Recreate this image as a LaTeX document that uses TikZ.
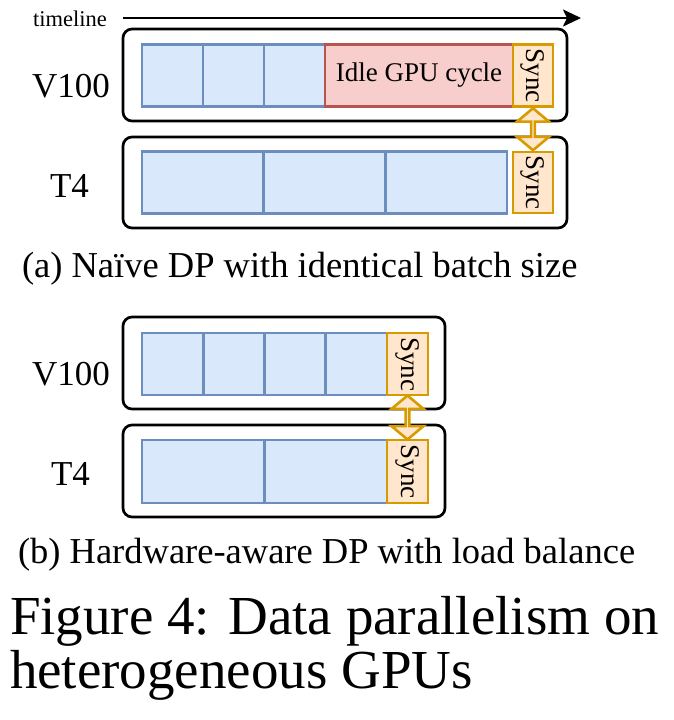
\documentclass[tikz,border=0pt]{standalone}
\usepackage{fontspec}
\setmainfont{Liberation Serif}
\usepackage{xcolor}
\usetikzlibrary{positioning,shapes.arrows,arrows.meta,calc}
\definecolor{blkfill}{HTML}{DAE8FC}
\definecolor{blkdraw}{HTML}{6C8EBF}
\definecolor{idlefill}{HTML}{F8CECC}
\definecolor{idledraw}{HTML}{B85450}
\definecolor{syncfill}{HTML}{FFE6CC}
\definecolor{syncdraw}{HTML}{D79B00}
\newcommand{\tlfont}{\fontsize{22.5}{26}\selectfont}
\newcommand{\gpufont}{\fontsize{35}{40}\selectfont}
\newcommand{\boxfont}{\fontsize{27}{30}\selectfont}
\newcommand{\capfont}{\fontsize{36.5}{42}\selectfont}
\newcommand{\figfont}{\fontsize{55}{60}\selectfont}

\begin{document}
\begin{tikzpicture}[x=1pt,y=-1pt]
\tikzstyle{every node}+=[inner sep=0pt, outer sep=0pt]
\tikzstyle{gpu}=[draw=black, line width=2.7pt, rounded corners=9pt, anchor=north west, minimum width=444pt, minimum height=92pt]
\tikzstyle{blk}=[draw=blkdraw, fill=blkfill, line width=2.6pt, anchor=north west, minimum height=62pt]
\tikzstyle{idle}=[draw=idledraw, fill=idlefill, line width=2.6pt, anchor=north west, minimum height=62pt, font=\boxfont]
\tikzstyle{sync}=[draw=syncdraw, fill=syncfill, line width=2.6pt, rotate=-90, minimum height=40pt, font=\boxfont]
\tikzstyle{dbl}=[double arrow, draw=syncdraw, fill=syncfill, line width=2.6pt, rotate=90, minimum width=32pt, double arrow head extend=10pt, double arrow tip angle=100]
\tikzstyle{txt}=[anchor=base west]
\useasboundingbox (0,0) rectangle (673,720);
\node[txt, font=\tlfont] (tl) at (33,27) {timeline};
\coordinate (tlstart) at (123,18);
\coordinate (tlend) at (581,18);
\draw[line width=2.2pt, -{Stealth[length=18pt,width=17pt,inset=4pt]}] (tlstart) -- (tlend);
\node[gpu] (fva) at (123,29) {};
\node[gpu, minimum height=91pt] (fta) at (123,137) {};
\node[txt, font=\gpufont] (lva) at (32,97) {V100};
\node[txt, font=\gpufont] (lta) at (50,197) {T4};
\node[blk, minimum width=61pt] (va1) at (142,44.5) {};
\node[blk, minimum width=61pt] (va2) at (203,44.5) {};
\node[blk, minimum width=61pt] (va3) at (264,44.5) {};
\node[idle, minimum width=188pt] (ia) at (325,44.5) {Idle GPU cycle};
\node[sync, minimum width=62pt] (sva) at (533,75.5) {Sync};
\node[blk, minimum width=121.7pt] (ta1) at (142,151.5) {};
\node[blk, minimum width=121.7pt] (ta2) at (263.7,151.5) {};
\node[blk, minimum width=121.6pt] (ta3) at (385.4,151.5) {};
\node[sync, minimum width=61pt] (sta) at (533,182.5) {Sync};
\node[dbl, minimum height=42pt] (da) at ($(sva.east)!0.5!(sta.west)$) {};
\node[txt, font=\capfont] (capa) at (22,277) {(a) Naïve DP with identical batch size};
\node[gpu, minimum width=322pt] (fvb) at (123,317) {};
\node[gpu, minimum width=322pt] (ftb) at (123,425) {};
\node[txt, font=\gpufont] (lvb) at (32,385) {V100};
\node[txt, font=\gpufont] (ltb) at (51,485) {T4};
\node[blk, minimum width=61.25pt] (vb1) at (142,333) {};
\node[blk, minimum width=61.25pt] (vb2) at (203.25,333) {};
\node[blk, minimum width=61.25pt] (vb3) at (264.5,333) {};
\node[blk, minimum width=61.25pt] (vb4) at (325.75,333) {};
\node[sync, minimum width=62pt, minimum height=41pt] (svb) at (407.5,364) {Sync};
\node[blk, minimum width=122.5pt, minimum height=63pt] (tb1) at (142,440) {};
\node[blk, minimum width=122.5pt, minimum height=63pt] (tb2) at (264.5,440) {};
\node[sync, minimum width=63pt, minimum height=41pt] (stb) at (407.5,471.5) {Sync};
\node[dbl, minimum height=44pt] (db) at ($(svb.east)!0.5!(stb.west)$) {};
\node[txt, font=\capfont] (capb) at (18,563) {(b) Hardware-aware DP with load balance};
\node[txt, font=\figfont] (fig1) at (10,634) {Figure 4: Data parallelism on};
\node[txt, font=\figfont] (fig2) at (10,688) {heterogeneous GPUs};
\end{tikzpicture}
\end{document}
